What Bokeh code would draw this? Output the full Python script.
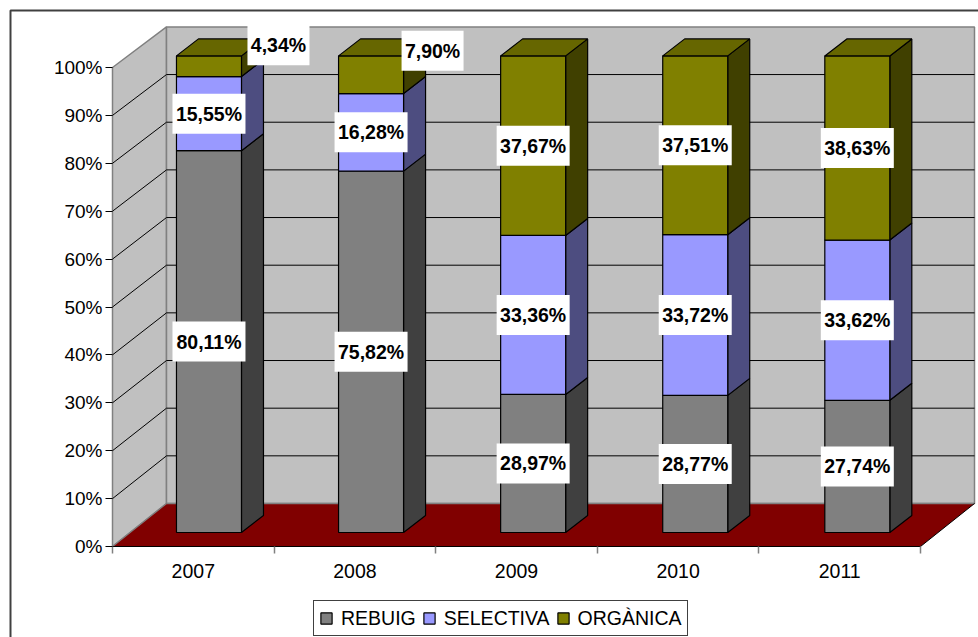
from bokeh.embed import file_html
from bokeh.resources import INLINE
from bokeh.plotting import figure
from bokeh.models import (LinearAxis, FixedTicker, PrintfTickFormatter, Legend, LegendItem,
                          Range1d, ColumnDataSource)
from bokeh.core.properties import value

# ---- data ----
years = ["2007", "2008", "2009", "2010", "2011"]
rebuig = [80.11, 75.82, 28.97, 28.77, 27.74]
selectiva = [15.55, 16.28, 33.36, 33.72, 33.62]
organica = [4.34, 7.90, 37.67, 37.51, 38.63]
series_names = ["REBUIG", "SELECTIVA", "ORGÀNICA"]
y_ticks = [0, 10, 20, 30, 40, 50, 60, 70, 80, 90, 100]

# ---- styles ----
front_cols = ["#808080", "#9999FF", "#808000"]
side_cols = ["#404040", "#4D4D80", "#404000"]
top_col = "#666600"
WALL = "#C0C0C0"
FLOOR = "#800000"
EDGE = "#808080"
FONT = "Liberation Sans"

# ---- projection ----
W, H = 978, 637
ORIGIN_PX = (112, 546)           # pixel of category 0 / 0 %
SLOT_PX, PCT_PX = 161.6, 4.79    # px per category, px per percent
WALL_DX, WALL_DY = 54 / SLOT_PX, 43 / PCT_PX
DEPTH_K = 0.995                  # slight shrink of everything behind the front plane
BAR_W = 65 / SLOT_PX
BAR_STEP = 1.003
BAR_C0 = 0.597
BAR_FRONT_DY = 14 / PCT_PX
BAR_SIDE_DX, BAR_SIDE_DY = 22 / SLOT_PX, 17 / PCT_PX
N = len(years)

p = figure(width=W, height=H, output_backend="svg", toolbar_location=None,
           x_axis_type=None, y_axis_type=None, min_border=0,
           x_range=Range1d(-ORIGIN_PX[0] / SLOT_PX, (W - ORIGIN_PX[0]) / SLOT_PX),
           y_range=Range1d((ORIGIN_PX[1] - H) / PCT_PX, ORIGIN_PX[1] / PCT_PX))
p.grid.visible = False
p.outline_line_color = None
p.background_fill_color = "white"
p.border_fill_color = "white"


def back_y(v):
    return v * DEPTH_K + WALL_DY


# ---- chart frame (open at right and bottom, where the window cuts it) ----
p.line([(10 - ORIGIN_PX[0]) / SLOT_PX, (10 - ORIGIN_PX[0]) / SLOT_PX, (W + 20 - ORIGIN_PX[0]) / SLOT_PX],
       [(ORIGIN_PX[1] - H - 20) / PCT_PX, (ORIGIN_PX[1] - 10) / PCT_PX, (ORIGIN_PX[1] - 10) / PCT_PX],
       line_color="#404040", line_width=2)

# ---- walls and floor ----
p.patch([0, WALL_DX, WALL_DX, 0], [0, back_y(0), back_y(100), 100],
        fill_color=WALL, line_color=EDGE, line_width=1.5)
p.patch([WALL_DX, N + WALL_DX, N + WALL_DX, WALL_DX],
        [back_y(0), back_y(0), back_y(100), back_y(100)],
        fill_color=WALL, line_color=EDGE, line_width=1.5)
p.patch([0, WALL_DX, N + WALL_DX, N], [0, back_y(0), back_y(0), 0],
        fill_color=FLOOR, line_color=None)
p.line([WALL_DX, N + WALL_DX], [back_y(0), back_y(0)], line_color=EDGE, line_width=1.5)
p.line([0, WALL_DX], [0, back_y(0)], line_color=EDGE, line_width=1.2)
p.line([0, N, N + WALL_DX], [0, 0, back_y(0)], line_color="black", line_width=1)

# ---- gridlines ----
grid_vals = [t for t in y_ticks if 0 < t < 100]
p.multi_line([[0, WALL_DX, N + WALL_DX] for _ in grid_vals],
             [[t, back_y(t), back_y(t)] for t in grid_vals],
             line_color="black", line_width=1)

# ---- bars ----
centers = [BAR_C0 + i * BAR_STEP for i in range(N)]
lefts = [c - BAR_W / 2 for c in centers]
rights = [c + BAR_W / 2 for c in centers]
stack = [[0.0] * N]
for s in (rebuig, selectiva, organica):
    stack.append([a + b for a, b in zip(stack[-1], s)])


def fy(v):
    return v * DEPTH_K + BAR_FRONT_DY


legend_items = []
for k, name in enumerate(series_names):
    lo, hi = stack[k], stack[k + 1]
    xs = [[r, r + BAR_SIDE_DX, r + BAR_SIDE_DX, r] for r in rights]
    ys = [[fy(a), fy(a) + BAR_SIDE_DY, fy(b) + BAR_SIDE_DY, fy(b)] for a, b in zip(lo, hi)]
    p.patches(xs, ys, fill_color=side_cols[k], line_color="black", line_width=1.2)
    rq = p.quad(left=lefts, right=rights, bottom=[fy(a) for a in lo], top=[fy(b) for b in hi],
                fill_color=front_cols[k], line_color="black", line_width=1.2)
    legend_items.append(LegendItem(label=name, renderers=[rq]))

p.patches([[l, r, r + BAR_SIDE_DX, l + BAR_SIDE_DX] for l, r in zip(lefts, rights)],
          [[fy(t), fy(t), fy(t) + BAR_SIDE_DY, fy(t) + BAR_SIDE_DY] for t in stack[3]],
          fill_color=top_col, line_color="black", line_width=1.2)

# ---- value labels (white box + bold text) ----
# px nudges of the two labels that were moved away from their segment centre
nudges = {(2, 0): (69.5, 21), (2, 1): (61.5, 24)}
lx, ly, lt, lw = [], [], [], []
for k, vals in enumerate((rebuig, selectiva, organica)):
    for i, v in enumerate(vals):
        txt = f"{v:.2f}".replace(".", ",") + "%"
        nx, ny = nudges.get((k, i), (0, 0))
        lx.append(centers[i] + nx / SLOT_PX)
        ly.append(fy(stack[k][i] + v / 2) + ny / PCT_PX)
        lt.append(txt)
        lw.append((73 if len(txt) == 6 else 62) / SLOT_PX)
src = ColumnDataSource(dict(x=lx, y=ly, t=lt, w=lw, h=[40 / PCT_PX] * len(lx)))
p.rect(x="x", y="y", width="w", height="h", source=src, fill_color="white", line_color=None)
p.text(x="x", y="y", text="t", source=src, text_font=value(FONT), text_font_style="bold",
       text_font_size="19.5px", text_align="center", text_baseline="middle", text_color="black")

# ---- axes ----
yax = LinearAxis(fixed_location=0, ticker=FixedTicker(ticks=y_ticks),
                 formatter=PrintfTickFormatter(format="%d%%"))
yax.axis_line_color = None
yax.major_tick_in = 0
yax.major_tick_out = 7
yax.major_tick_line_color = "black"
yax.minor_tick_line_color = None
yax.major_label_standoff = 3
yax.major_label_text_font = FONT
yax.major_label_text_font_size = "19px"
yax.major_label_text_color = "black"
p.add_layout(yax, "left")

lab_pos = [i + 0.5 for i in range(N)]
xax = LinearAxis(fixed_location=0,
                 ticker=FixedTicker(ticks=lab_pos, minor_ticks=list(range(N + 1))),
                 major_label_overrides=dict(zip(lab_pos, years)))
xax.axis_line_color = None
xax.major_tick_line_color = None
xax.major_tick_out = 0
xax.major_tick_in = 0
xax.minor_tick_out = 7
xax.minor_tick_in = 0
xax.minor_tick_line_color = EDGE
xax.minor_tick_line_width = 1.5
xax.major_label_standoff = 10
xax.major_label_text_font = FONT
xax.major_label_text_font_size = "19.5px"
xax.major_label_text_color = "black"
p.add_layout(xax, "below")

# ---- legend ----
leg = Legend(items=legend_items, orientation="horizontal", location=(313, 1),
             glyph_width=14, glyph_height=14, label_standoff=8, spacing=6,
             padding=5, margin=0, label_text_font=FONT, label_text_font_size="19.5px",
             label_text_color="black", border_line_color="#404040", border_line_width=1,
             border_line_alpha=1, background_fill_color="white", background_fill_alpha=1,
             label_height=24)
p.add_layout(leg, "center")

open("out.html", "w").write(file_html(p, INLINE))
